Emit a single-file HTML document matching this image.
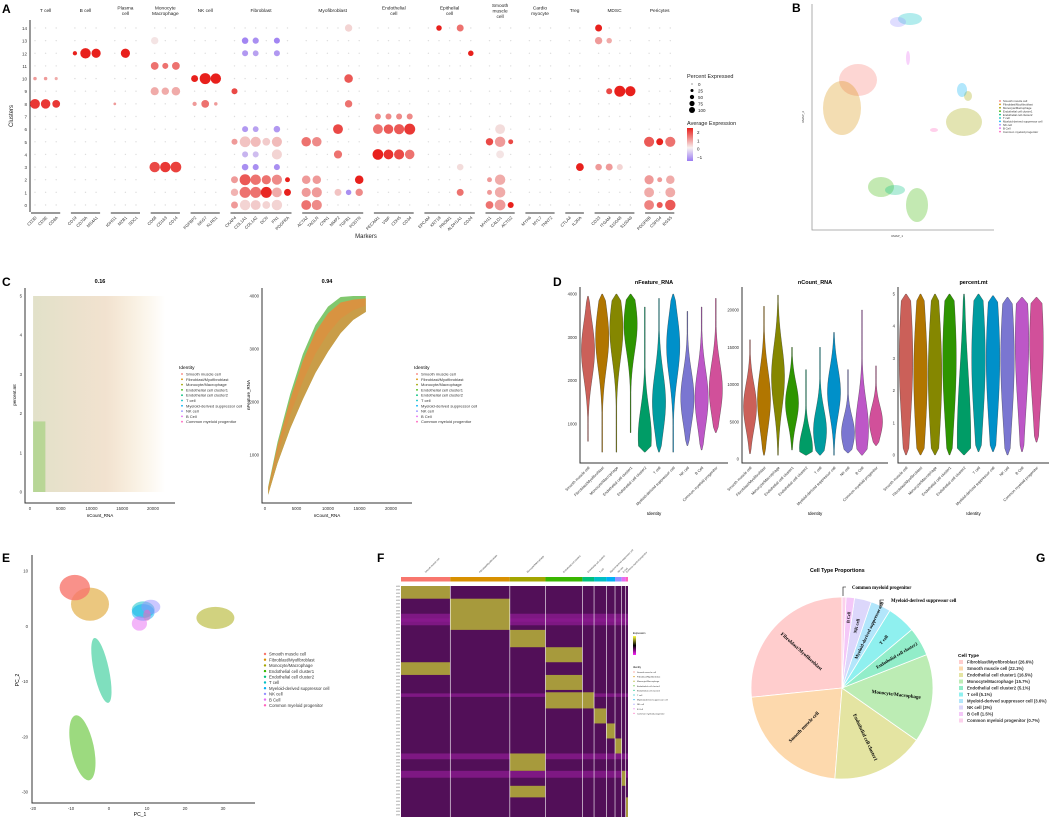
<!DOCTYPE html>
<html><head><meta charset="utf-8"><style>
html,body{margin:0;padding:0;background:#fff;}
svg{display:block;font-family:"Liberation Sans",sans-serif;}
</style></head><body>
<svg id="fig" width="1052" height="818" viewBox="0 0 1052 818" xmlns="http://www.w3.org/2000/svg">
<rect width="1052" height="818" fill="#fff"/>
<g font-weight="bold" font-size="12">
<text x="2" y="13">A</text>
<text x="792" y="12">B</text>
<text x="2" y="286">C</text>
<text x="553" y="286">D</text>
<text x="2" y="562">E</text>
<text x="377" y="562">F</text>
<text x="1036" y="562">G</text>
</g>
<g id="A"></g>
<g id="B"></g>
<g id="C"></g>
<g id="D"></g>
<g id="E"></g>
<g id="F"></g>
<g id="G"></g>
</svg>
<script>
const identities = ["Smooth muscle cell","Fibroblast/Myofibroblast","Monocyte/Macrophage","Endothelial cell cluster1","Endothelial cell cluster2","T cell","Myeloid-derived suppressor cell","NK cell","B Cell","Common myeloid progenitor"];
const hue = ["#F8766D","#D89000","#A3A500","#39B600","#00BF7D","#00BFC4","#00B0F6","#9590FF","#E76BF3","#FF62BC"];
const groupNames = [["T cell"],["B cell"],["Plasma","cell"],["Monocyte","Macrophage"],["NK cell"],["Fibroblast"],["Myofibroblast"],["Endothelial","cell"],["Epithelial","cell"],["Smooth","muscle","cell"],["Cardio","myocyte"],["Treg"],["MDSC"],["Pericytes"]];
const groupMarkers = [["CD3D","CD3E","CD8A"],["CD19","CD79A","MS4A1"],["IGHG1","MZB1","SDC1"],["CD68","CD163","CD14"],["FGFBP2","NKG7","KLRD1"],["CKAP4","COL1A1","COL1A2","DCN","FN1","PDGFRA"],["ACTA2","TAGLN","CNN1","MMP2","TGFB1","POSTN"],["PECAM1","VWF","CDH5","CD34"],["EPCAM","KRT18","PROM1","ALDH1A1","CD24"],["MYH11","CALD1","ACTG2"],["MYH6","MYL7","TNNT2"],["CTLA4","IL2RA"],["CD33","ITGAM","S100A8","S100A9"],["PDGFRB","CSPG4","RGS5"]];
const clusters = [0,1,2,3,4,5,6,7,8,9,10,11,12,13,14];
const dotData = [
["CD3D",8,80,2.2],["CD3E",8,75,2.2],["CD8A",8,50,2.2],["CD3D",10,10,1],["CD3E",10,10,1],["CD8A",10,8,0.8],
["CD19",12,15,2.5],["CD79A",12,90,2.5],["MS4A1",12,70,2.5],["MZB1",12,70,2.5],["IGHG1",8,6,1],
["CD68",3,90,2],["CD163",3,90,2.2],["CD14",3,95,2.1],["CD68",11,50,1.5],["CD163",11,30,1.5],["CD14",11,50,1.5],["CD68",9,55,0.8],["CD163",9,45,0.8],["CD14",9,60,0.8],["CD68",13,45,0.1],
["FGFBP2",10,40,2.5],["NKG7",10,100,2.5],["KLRD1",10,90,2.5],["FGFBP2",8,15,1],["NKG7",8,50,1.5],["KLRD1",8,10,1],
["CKAP4",0,40,1],["COL1A1",0,90,0.3],["COL1A2",0,80,0.4],["DCN",0,50,0.3],["FN1",0,90,0.3],
["CKAP4",1,45,0.7],["COL1A1",1,100,1.5],["COL1A2",1,100,1.5],["DCN",1,100,2.4],["FN1",1,80,0.8],["PDGFRA",1,40,2.5],
["CKAP4",2,40,1],["COL1A1",2,100,1.8],["COL1A2",2,90,1.5],["DCN",2,70,1.5],["FN1",2,85,1.2],["PDGFRA",2,20,2.5],
["CKAP4",5,30,1],["COL1A1",5,95,0.5],["COL1A2",5,85,0.6],["DCN",5,50,0.4],["FN1",5,85,0.6],
["FN1",4,85,0.3],["COL1A1",4,30,-0.6],["COL1A2",4,30,-0.5],
["COL1A1",3,35,-1],["COL1A2",3,30,-1],["FN1",3,30,-1],["COL1A1",6,30,-0.9],["COL1A2",6,28,-0.8],["FN1",6,35,-0.9],
["COL1A1",12,30,-0.9],["COL1A2",12,28,-0.8],["FN1",12,30,-0.9],["COL1A1",13,35,-1.1],["COL1A2",13,32,-1],["FN1",13,30,-1.1],["CKAP4",9,30,2],
["ACTA2",0,80,1.5],["TAGLN",0,85,1.2],["ACTA2",1,70,1],["TAGLN",1,85,1],["MMP2",1,40,0.5],["TGFB1",1,25,-1],["POSTN",1,45,1.2],
["ACTA2",2,60,1],["TAGLN",2,60,1],["POSTN",2,60,2.5],["ACTA2",5,75,1.5],["TAGLN",5,75,1.2],["MMP2",4,55,1.5],["MMP2",6,80,2],
["TGFB1",10,60,1.8],["TGFB1",8,45,1.5],["TGFB1",14,45,0.3],
["PECAM1",4,95,2.5],["VWF",4,80,2.3],["CDH5",4,85,2],["CD34",4,75,1.5],["PECAM1",6,80,1.5],["VWF",6,75,1.8],["CDH5",6,85,1.8],["CD34",6,100,2.2],
["PECAM1",7,30,1.2],["VWF",7,30,1.2],["CDH5",7,30,1.2],["CD34",7,30,1.2],
["KRT18",14,25,2.5],["ALDH1A1",14,40,1.5],["CD24",12,25,2.5],["ALDH1A1",1,40,1.5],["ALDH1A1",3,35,0.2],
["MYH11",0,50,1.5],["CALD1",0,95,1],["ACTG2",0,30,2.5],["MYH11",1,20,1],["CALD1",1,90,0.8],["MYH11",2,20,1],["CALD1",2,90,0.8],
["MYH11",5,45,2],["CALD1",5,90,1],["ACTG2",5,20,2],["CALD1",6,80,0.2],["CALD1",4,50,0.1],
["IL2RA",3,50,2.5],
["CD33",14,40,2.5],["CD33",13,45,1],["ITGAM",13,25,0.8],["ITGAM",9,30,2],["S100A8",9,100,2.5],["S100A9",9,85,2.5],["CD33",3,35,1],["ITGAM",3,40,1],["S100A8",3,30,0.3],
["PDGFRB",0,80,1.3],["CSPG4",0,30,1.8],["RGS5",0,90,1.8],["PDGFRB",1,80,0.8],["RGS5",1,80,0.8],["PDGFRB",2,70,1],["CSPG4",2,20,1],["RGS5",2,60,0.8],
["PDGFRB",5,85,1.8],["CSPG4",5,40,2.5],["RGS5",5,85,1.5]
];
const sizeTicks = [0,25,50,75,100];
const exprTicks = [2,1,0,-1];
const curveCount = [500,2000,4000,6000,8000,10000,12000,14000,16000];
const curveUpper = [400,1250,2150,2900,3450,3800,3980,4000,4000];
const curveLower = [250,850,1500,2050,2550,2950,3300,3550,3700];
const featMin=[600,350,350,800,350,350,350,500,400,800], featMax=[3950,4000,4000,4000,3700,3900,4000,3600,3700,3900], featMode=[2700,3000,3200,3300,700,1500,2800,1600,1600,1800];
const countMin=[700,500,500,1200,500,500,500,800,500,1800], countMax=[16000,20500,22000,15000,12000,15000,17000,12000,20000,12500], countMode=[7000,8000,11000,7500,1500,3800,9000,3500,4000,5000];
const mtMin=[0,0,0,0,0,0.1,0.1,0,0.1,0.4], mtMax=[5,5,5,5,5,5,4.95,4.9,4.9,4.9], mtMode=[3,2.5,2.5,3,0.5,3,3,3,3.5,3.5];
const pcaPC1=[-9,-5,28,-7,-2,9,9,11,8,10], pcaPC2=[7,4,1.5,-22,-8,3,2.5,3.5,0.5,2], pcaSd1=[4,5,5,3,2,3,3,2.5,2,1], pcaSd2=[2.3,3,2,6,6,1.5,1.5,1.3,1.3,1];
const heatCells = [148,179,107,111,35,37,26,20,12,7];
const heatBlocks = [[0,0,11],[0,66,77],[1,11,38],[2,38,53],[2,145,160],[2,173,183],[3,53,66],[3,77,90],[3,92,106],[4,92,106],[5,106,119],[6,119,132],[7,132,145],[8,160,173],[9,183,200]];
const pieLabels = ["Fibroblast/Myofibroblast","Smooth muscle cell","Endothelial cell cluster1","Monocyte/Macrophage","Endothelial cell cluster2","T cell","Myeloid-derived suppressor cell","NK cell","B Cell","Common myeloid progenitor"];
const pieValues = [26.6,22.1,16.5,15.7,5.1,5.1,3.6,3.0,1.5,0.7];
const pieColors = ["#ffcdcd","#fdd9ad","#e4e4a2","#bcecb4","#92edc9","#8ff0ef","#b2e6fb","#dcd7fb","#f4c8f8","#fcd1ec"];

const NS="http://www.w3.org/2000/svg";
function mk(parent,tag,attrs,text){const e=document.createElementNS(NS,tag);for(const k in attrs)e.setAttribute(k,attrs[k]);if(text!==undefined)e.textContent=text;parent.appendChild(e);return e;}
function lin(d0,d1,r0,r1){return v=>r0+(v-d0)/(d1-d0)*(r1-r0);}
function mixC(a,b,t){const pa=[1,3,5].map(i=>parseInt(a.substr(i,2),16)),pb=[1,3,5].map(i=>parseInt(b.substr(i,2),16));return "rgb("+pa.map((v,i)=>Math.round(v+(pb[i]-v)*t)).join(",")+")";}
function exprColor(v){if(v>=0)return mixC("#f4ecec","#e8201c",Math.min(v/2.5,1));return mixC("#f4ecec","#9a7cf2",Math.min(-v/1.2,1));}

(function(){
const g=document.getElementById("A");
const yA=lin(0,14,205,28);
const markerX={};let x=35;const groupSpan=[];
groupMarkers.forEach((ms,gi)=>{const s=x;ms.forEach((m,i)=>{markerX[m]=x;if(i<ms.length-1)x+=10.6;});groupSpan.push([s,x]);x+=18.7;});
let ax=mk(g,"line",{x1:30,y1:20,x2:30,y2:212,stroke:"#333","stroke-width":1});

clusters.forEach(c=>{const t=mk(g,"text",{x:27,y:yA(c)+2,"font-size":4.5,"text-anchor":"end",fill:"#333"},c);

Object.keys(markerX).forEach(m=>{const d=mk(g,"circle",{cx:markerX[m],cy:yA(c),r:0.7,fill:"#ddd"});});});
const yt=mk(g,"text",{x:13,y:116,"font-size":6,"text-anchor":"middle",transform:"rotate(-90 13 116)",fill:"#222"},"Clusters");

groupSpan.forEach((sp,gi)=>{const l=mk(g,"line",{x1:sp[0]-4,x2:sp[1]+4,y1:213,y2:213,stroke:"#333","stroke-width":0.9});

const mid=(sp[0]+sp[1])/2;const lines=groupNames[gi];
lines.forEach((ln,li)=>{const t=mk(g,"text",{x:mid,y:12+li*5.5-(lines.length-1)*2.5,"font-size":4.8,"text-anchor":"middle",fill:"#222"},ln);});});
Object.keys(markerX).forEach(m=>{const t=mk(g,"text",{x:markerX[m]+2,y:218,"font-size":4.2,"text-anchor":"end",fill:"#333",transform:`rotate(-45 ${markerX[m]+2} 218)`},m);});
const xt=mk(g,"text",{x:366,y:238,"font-size":6,"text-anchor":"middle",fill:"#222"},"Markers");
dotData.forEach(d=>{const c=mk(g,"circle",{cx:markerX[d[0]],cy:yA(d[1]),r:5.5*Math.sqrt(d[2]/100),fill:exprColor(d[3])});});
let t=mk(g,"text",{x:687,y:78,"font-size":5.5,fill:"#222"},"Percent Expressed");
sizeTicks.forEach((s,i)=>{const c=mk(g,"circle",{cx:692,cy:84+i*6.5,r:Math.max(0.5,3*Math.sqrt(s/100)),fill:"#000"});
const tt=mk(g,"text",{x:698,y:86+i*6.5,"font-size":4.5,fill:"#222"},s);});
t=mk(g,"text",{x:687,y:125,"font-size":5.5,fill:"#222"},"Average Expression");
const defs=mk(g,"defs",{});const lg=mk(defs,"linearGradient",{id:"exg",x1:0,y1:0,x2:0,y2:1});
mk(lg,"stop",{offset:"0","stop-color":"#e8201c"});mk(lg,"stop",{offset:"0.6","stop-color":"#f7f1f1"});mk(lg,"stop",{offset:"1","stop-color":"#9a7cf2"});
const cb=mk(g,"rect",{x:687,y:128,width:6,height:33,fill:"url(#exg)"});
const ey=lin(2,-1,132,157);exprTicks.forEach(v=>{const tt=mk(g,"text",{x:697,y:ey(v)+2,"font-size":4.5,fill:"#222"},v===-1?"−1":v);});
})();

(function(){
const g=document.getElementById("B");
let a=mk(g,"path",{d:"M812 4 V230 H994",fill:"none",stroke:"#999","stroke-width":0.8});
const blobs=[[858,80,19,16,0],[842,108,19,27,1],[964,122,18,14,2],[968,96,4,5,2],[881,187,13,10,3],[917,205,11,17,3],[895,190,10,5,4],[910,19,12,6,5],[962,90,5,7,6],[898,22,8,5,7],[908,58,2,7,8],[934,130,4,2,9]];
blobs.forEach(b=>{const e=mk(g,"ellipse",{cx:b[0],cy:b[1],rx:b[2],ry:b[3],fill:hue[b[4]],"fill-opacity":0.3});});
identities.forEach((n,i)=>{const c=mk(g,"circle",{cx:1000,cy:101+i*3.4,r:0.9,fill:hue[i]});
const t=mk(g,"text",{x:1003,y:102.2+i*3.4,"font-size":2.8,fill:"#333"},n);});
let t=mk(g,"text",{x:897,y:237,"font-size":3,"text-anchor":"middle",fill:"#333"},"UMAP_1");
t=mk(g,"text",{x:804,y:117,"font-size":3,"text-anchor":"middle",transform:"rotate(-90 804 117)",fill:"#333"},"UMAP_2");
})();

(function(){
const g=document.getElementById("C");
const defs=mk(g,"defs",{});
const lg=mk(defs,"linearGradient",{id:"cg",x1:0,y1:0,x2:1,y2:0});
mk(lg,"stop",{offset:"0","stop-color":"#9c9a4a","stop-opacity":0.3});mk(lg,"stop",{offset:"0.55","stop-color":"#c98a40","stop-opacity":0.25});mk(lg,"stop",{offset:"1","stop-color":"#d89000","stop-opacity":0});
const x1=lin(0,20000,30,153),y1=lin(0,5,492,296);
let r=mk(g,"rect",{x:x1(500),y:y1(5),width:x1(22000)-x1(500),height:y1(0)-y1(5),fill:"url(#cg)"});
r=mk(g,"rect",{x:x1(500),y:y1(1.8),width:x1(2500)-x1(500),height:y1(0)-y1(1.8),fill:"#39B600","fill-opacity":0.25});
let a=mk(g,"path",{d:"M25 288 V503 H175",fill:"none",stroke:"#333","stroke-width":1});
[0,1,2,3,4,5].forEach(v=>{const t=mk(g,"text",{x:22,y:y1(v)+1.5,"font-size":4.3,"text-anchor":"end",fill:"#333"},v);});
[0,5000,10000,15000,20000].forEach(v=>{const t=mk(g,"text",{x:x1(v),y:510,"font-size":4.3,"text-anchor":"middle",fill:"#333"},v);});
let t=mk(g,"text",{x:100,y:283,"font-size":5.5,"font-weight":"bold","text-anchor":"middle"},"0.16");
t=mk(g,"text",{x:100,y:517,"font-size":4.5,"text-anchor":"middle"},"nCount_RNA");
t=mk(g,"text",{x:16,y:395,"font-size":4.5,"text-anchor":"middle",transform:"rotate(-90 16 395)"},"percent.mt");
const x2=lin(0,20000,265,391),y2=lin(1000,4000,455,296);
const up=curveCount.map((c,i)=>x2(c)+","+y2(curveUpper[i])),lo=curveCount.map((c,i)=>x2(c)+","+y2(curveLower[i])).reverse();
const mid=curveCount.map((c,i)=>x2(c)+","+y2((curveUpper[i]*0.4+curveLower[i]*0.6))).reverse();
let p=mk(g,"polygon",{points:up.concat(lo).join(" "),fill:"#4cb030","fill-opacity":0.7});
p=mk(g,"polygon",{points:curveCount.map((c,i)=>x2(c)+","+y2(curveUpper[i]*0.85+curveLower[i]*0.15)).concat(lo).join(" "),fill:"#e88a3a","fill-opacity":0.85});
p=mk(g,"polygon",{points:mid.reverse().concat(lo).join(" "),fill:"#b9a850","fill-opacity":0.5});
a=mk(g,"path",{d:"M262 288 V503 H412",fill:"none",stroke:"#333","stroke-width":1});
[1000,2000,3000,4000].forEach(v=>{const tt=mk(g,"text",{x:259,y:y2(v)+1.5,"font-size":4.3,"text-anchor":"end",fill:"#333"},v);});
[0,5000,10000,15000,20000].forEach(v=>{const tt=mk(g,"text",{x:x2(v),y:510,"font-size":4.3,"text-anchor":"middle",fill:"#333"},v);});
t=mk(g,"text",{x:327,y:283,"font-size":5.5,"font-weight":"bold","text-anchor":"middle"},"0.94");
t=mk(g,"text",{x:327,y:517,"font-size":4.5,"text-anchor":"middle"},"nCount_RNA");
t=mk(g,"text",{x:250,y:395,"font-size":4.5,"text-anchor":"middle",transform:"rotate(-90 250 395)"},"nFeature_RNA");
[179,414].forEach(lx=>{const tt=mk(g,"text",{x:lx,y:369,"font-size":4.8},"Identity");
identities.forEach((n,i)=>{const c=mk(g,"circle",{cx:lx+3,cy:374+i*5.3,r:0.9,fill:hue[i]});
const q=mk(g,"text",{x:lx+7,y:375.5+i*5.3,"font-size":4,fill:"#333"},n);});});
})();

(function(){
const g=document.getElementById("D");
const panels=[{x0:580,x1:728,hi:4000,ticks:[1000,2000,3000,4000],mn:featMin,mx:featMax,mo:featMode,title:"nFeature_RNA",flat:0},
{x0:742,x1:888,hi:20000,mapLoY:459,mapHiY:310,ticks:[0,5000,10000,15000,20000],mn:countMin,mx:countMax,mo:countMode,title:"nCount_RNA",flat:0},
{x0:898,x1:1049,hi:5,mapLoY:455,mapHiY:294,ticks:[0,1,2,3,4,5],mn:mtMin,mx:mtMax,mo:mtMode,title:"percent.mt",flat:1}];
panels.forEach((P,pi)=>{
let y;
if(pi===0)y=lin(1000,4000,424,294);else y=lin(P.ticks[0],P.hi,P.mapLoY,P.mapHiY);
const a=mk(g,"path",{d:`M${P.x0} 287 V463 H${P.x1}`,fill:"none",stroke:"#333","stroke-width":1});
P.ticks.forEach(v=>{const t=mk(g,"text",{x:P.x0-3,y:y(v)+1.5,"font-size":4.2,"text-anchor":"end",fill:"#333"},v);});
const tt=mk(g,"text",{x:(P.x0+P.x1)/2,y:284,"font-size":5.5,"font-weight":"bold","text-anchor":"middle"},P.title);
const step=(P.x1-P.x0-6)/10;
identities.forEach((n,i)=>{const cx=P.x0+8+i*step;const mn=P.mn[i],mx=P.mx[i],mo=P.mo[i];const sd=(mx-mn)*(P.flat?0.6:0.28);
const W=step*0.47;const pts=[],N=24;
for(let k=0;k<=N;k++){const v=mn+(mx-mn)*k/N;let w=W*Math.exp(-Math.pow((v-mo)/sd,2));if(k===0||k===N)w=Math.min(w,0.4);pts.push([v,Math.max(w,0.4)]);}
const d="M"+pts.map(p=>(cx+p[1])+" "+y(p[0])).join(" L")+" L"+pts.slice().reverse().map(p=>(cx-p[1])+" "+y(p[0])).join(" L")+"Z";
const v=mk(g,"path",{d:d,fill:hue[i],stroke:"#333","stroke-width":0.3});
const sp=mk(g,"path",{d:d,fill:"#000","fill-opacity":0.18});
const lab=mk(g,"text",{x:cx+2,y:468,"font-size":3.8,"text-anchor":"end",fill:"#333",transform:`rotate(-45 ${cx+2} 468)`},n);});
const it=mk(g,"text",{x:(P.x0+P.x1)/2,y:515,"font-size":4.5,"text-anchor":"middle"},"Identity");
});
})();

(function(){
const g=document.getElementById("E");
const x=lin(-20,30,33,223),y=lin(10,-30,571,792);
const a=mk(g,"path",{d:"M32 555 V803 H255",fill:"none",stroke:"#333","stroke-width":1});
[-20,-10,0,10,20,30].forEach(v=>{const t=mk(g,"text",{x:x(v),y:810,"font-size":4.3,"text-anchor":"middle",fill:"#333"},v);});
[10,0,-10,-20,-30].forEach(v=>{const t=mk(g,"text",{x:28,y:y(v)+1.5,"font-size":4.3,"text-anchor":"end",fill:"#333"},v);});
let t=mk(g,"text",{x:140,y:816,"font-size":5,"text-anchor":"middle"},"PC_1");
t=mk(g,"text",{x:19,y:680,"font-size":5,"text-anchor":"middle",transform:"rotate(-90 19 680)"},"PC_2");
const order=[1,4,3,2,5,6,7,8,9,0];
order.forEach(i=>{const rx=Math.abs(x(pcaSd1[i])-x(0)),ry=Math.abs(y(pcaSd2[i])-y(0));
const rot=(i===3||i===4)?-12:0;
const e=mk(g,"ellipse",{cx:x(pcaPC1[i]),cy:y(pcaPC2[i]),rx:rx,ry:ry,fill:hue[i],"fill-opacity":i===0?0.8:0.5,transform:`rotate(${rot} ${x(pcaPC1[i])} ${y(pcaPC2[i])})`});
});
identities.forEach((n,i)=>{const c=mk(g,"circle",{cx:265,cy:654+i*5.7,r:1.2,fill:hue[i]});
const q=mk(g,"text",{x:269,y:655.7+i*5.7,"font-size":4.3,fill:"#333"},n);});
})();

(function(){
const g=document.getElementById("F");
const X0=401,X1=628,Y0=586,Y1=817;
const tot=heatCells.reduce((a,b)=>a+b,0);
const bounds=[];let acc=0;heatCells.forEach(c=>{bounds.push([X0+acc/tot*(X1-X0),X0+(acc+c)/tot*(X1-X0)]);acc+=c;});
const ry=r=>Y0+r/200*(Y1-Y0);
let bg=mk(g,"rect",{x:X0,y:Y0,width:X1-X0,height:Y1-Y0,fill:"#520f58"});
[[24,34],[28,31],[93,96],[145,150],[160,166]].forEach(b=>{const r=mk(g,"rect",{x:X0,y:ry(b[0]),width:X1-X0,height:ry(b[1])-ry(b[0]),fill:"#8a1a8e","fill-opacity":0.8});});
heatBlocks.forEach(b=>{const bx=bounds[b[0]];const r=mk(g,"rect",{x:bx[0],y:ry(b[1]),width:bx[1]-bx[0],height:ry(b[2])-ry(b[1]),fill:"#a79a3c"});});
bounds.forEach((b,i)=>{const r=mk(g,"rect",{x:b[0],y:577,width:b[1]-b[0],height:4.5,fill:hue[i]});
if(i>0){const l=mk(g,"line",{x1:b[0],x2:b[0],y1:Y0,y2:Y1,stroke:"#fff","stroke-width":0.6});}
const m=(b[0]+b[1])/2;const t=mk(g,"text",{x:m,y:573,"font-size":2.3,fill:"#333",transform:`rotate(-45 ${m} 573)`},identities[i]);});
for(let r=0;r<200;r+=3){const t=mk(g,"text",{x:X0-1,y:ry(r)+1,"font-size":1.4,"text-anchor":"end",fill:"#666"},"GENE");}
const defs=mk(g,"defs",{});const lg=mk(defs,"linearGradient",{id:"hg",x1:0,y1:0,x2:0,y2:1});
mk(lg,"stop",{offset:"0","stop-color":"#ffff44"});mk(lg,"stop",{offset:"0.5","stop-color":"#000"});mk(lg,"stop",{offset:"1","stop-color":"#ff22ff"});
let t=mk(g,"text",{x:633,y:634,"font-size":2.5},"Expression");
const cb=mk(g,"rect",{x:633,y:636,width:3,height:19,fill:"url(#hg)"});
t=mk(g,"text",{x:633,y:668,"font-size":2.5},"Identity");
identities.forEach((n,i)=>{const c=mk(g,"circle",{cx:634,cy:672+i*4.6,r:0.6,fill:hue[i]});
const q=mk(g,"text",{x:637,y:673+i*4.6,"font-size":2.2,fill:"#333"},n);});
})();

(function(){
const g=document.getElementById("G");
const cx=842,cy=688,R=91;
const total=pieValues.reduce((a,b)=>a+b,0);
let ang=90;
const ptAt=(deg,r)=>[cx+r*Math.cos(deg*Math.PI/180),cy-r*Math.sin(deg*Math.PI/180)];
pieValues.forEach((v,i)=>{const sweep=v/total*360;const a0=ang,a1=ang+sweep;
const p0=ptAt(a0,R),p1=ptAt(a1,R);
const d=`M${cx} ${cy} L${p0[0]} ${p0[1]} A${R} ${R} 0 ${sweep>180?1:0} 0 ${p1[0]} ${p1[1]} Z`;
const s=mk(g,"path",{d:d,fill:pieColors[i],stroke:"#fff","stroke-width":0.8});
const am=(a0+a1)/2;
if(i<8){let rot=-am;if(am>90&&am<270)rot=180-am;const rr=i<4?R*0.6:R*0.7;const lp=ptAt(am,rr);
const t=mk(g,"text",{x:lp[0],y:lp[1]+1.5,"font-size":i<4?5:4.6,"font-family":"Liberation Serif,serif","font-weight":"bold","text-anchor":"middle",transform:`rotate(${rot} ${lp[0]} ${lp[1]})`},pieLabels[i]);
}
else if(i===8){const lp=ptAt(am,R*0.78);const t=mk(g,"text",{x:lp[0],y:lp[1]+1.5,"font-size":4.3,"font-family":"Liberation Serif,serif","font-weight":"bold","text-anchor":"middle",transform:`rotate(${-am} ${lp[0]} ${lp[1]})`},pieLabels[i]);}
ang=a1;});
let c=mk(g,"path",{d:"M843 596 V587 H846",fill:"none",stroke:"#000","stroke-width":0.6});
let t=mk(g,"text",{x:852,y:589,"font-size":4.8,"font-family":"Liberation Serif,serif","font-weight":"bold"},pieLabels[9]);
c=mk(g,"path",{d:"M880 609 V600 H884",fill:"none",stroke:"#000","stroke-width":0.6});
t=mk(g,"text",{x:891,y:602,"font-size":4.8,"font-family":"Liberation Serif,serif","font-weight":"bold"},pieLabels[6]);
t=mk(g,"text",{x:810,y:572,"font-size":5.3,"font-weight":"bold"},"Cell Type Proportions");
t=mk(g,"text",{x:958,y:657,"font-size":4.8,"font-weight":"bold"},"Cell Type");
pieLabels.forEach((n,i)=>{const r=mk(g,"rect",{x:959,y:660+i*6.5,width:4,height:4,fill:pieColors[i]});
const q=mk(g,"text",{x:967,y:663.6+i*6.5,"font-size":4.3,"font-weight":"bold",fill:"#333"},n+" ("+pieValues[i]+"%)");});
})();
</script>
</body></html>
